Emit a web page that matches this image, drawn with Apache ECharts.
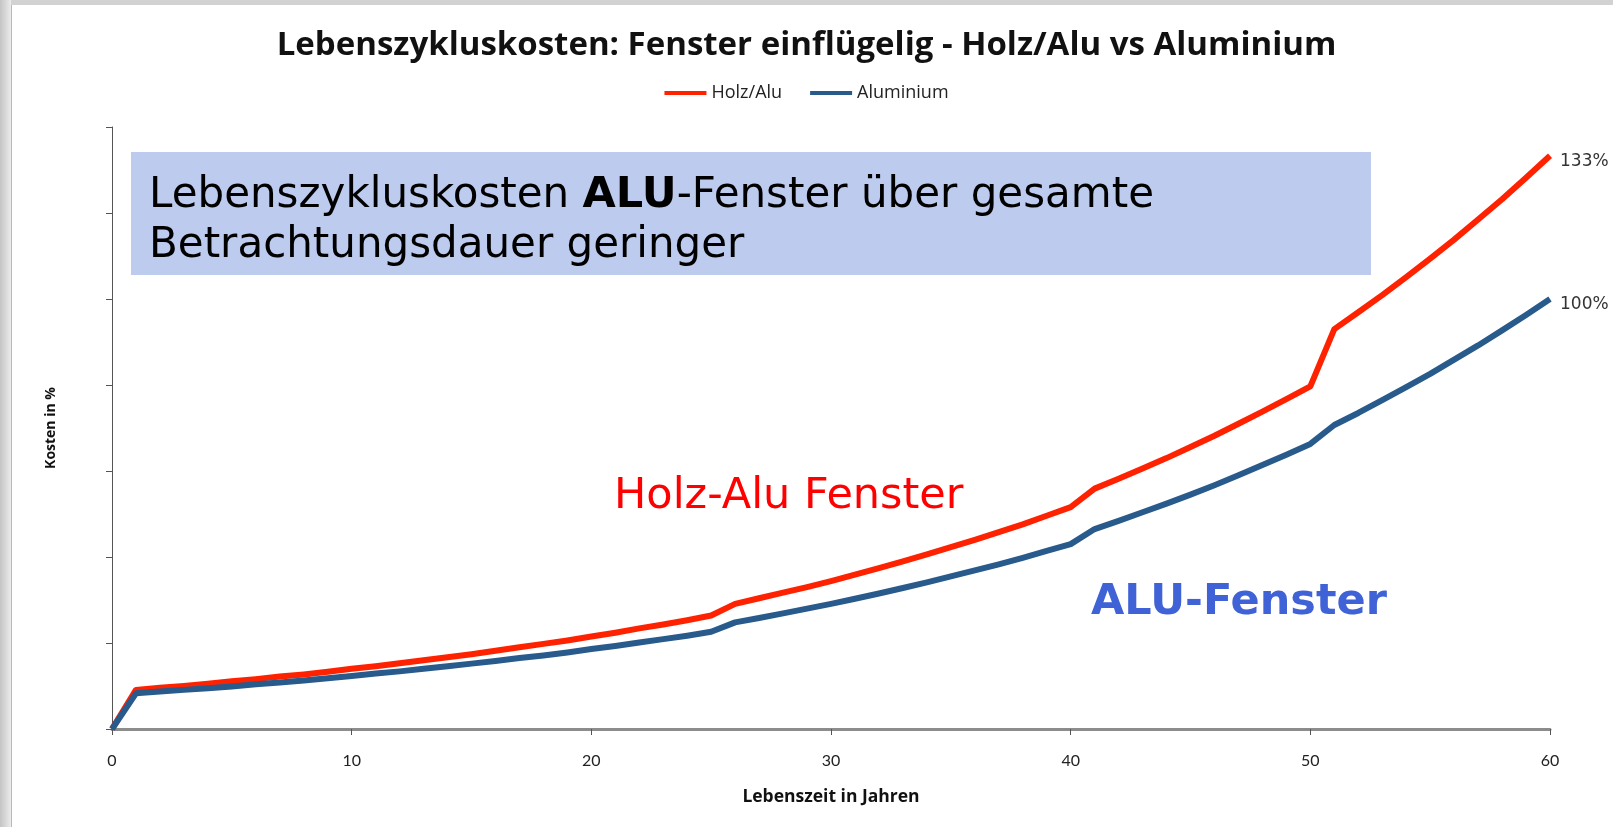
<!DOCTYPE html>
<html>
<head>
<meta charset="utf-8">
<title>Lebenszykluskosten</title>
<script src="https://cdn.jsdelivr.net/npm/echarts@6.0.0/dist/echarts.min.js"></script>
<style>
  html, body { margin: 0; padding: 0; background: #fff; }
  #chart { width: 1613px; height: 827px; }
</style>
</head>
<body>
<div id="chart"></div>
<script>
// Jahre (x-Achse)
var years = [0, 1, 2, 3, 4, 5, 6, 7, 8, 9, 10, 11, 12, 13, 14, 15, 16, 17, 18, 19, 20,
  21, 22, 23, 24, 25, 26, 27, 28, 29, 30, 31, 32, 33, 34, 35, 36, 37, 38, 39, 40,
  41, 42, 43, 44, 45, 46, 47, 48, 49, 50, 51, 52, 53, 54, 55, 56, 57, 58, 59, 60];

// Kosten in %
var holzAlu = [0, 9.1, 9.6, 10.0, 10.5, 11.1, 11.6, 12.2, 12.7, 13.3, 14.0, 14.6, 15.3, 16.0, 16.7, 17.4,
  18.2, 19.0, 19.8, 20.6, 21.5, 22.4, 23.4, 24.3, 25.3, 26.4, 29.1, 30.4, 31.7, 33.0, 34.4,
  35.9, 37.4, 39.0, 40.6, 42.3, 44.0, 45.8, 47.6, 49.6, 51.6, 55.9, 58.2, 60.6, 63.0, 65.6,
  68.2, 71.0, 73.8, 76.7, 79.7, 93.0, 96.9, 100.9, 105.1, 109.4, 113.8, 118.5, 123.2, 128.2, 133.3];

var aluminium = [0, 8.3, 8.7, 9.1, 9.5, 9.9, 10.4, 10.8, 11.3, 11.8, 12.3, 12.9, 13.4, 14.0, 14.6, 15.2,
  15.8, 16.5, 17.1, 17.8, 18.6, 19.3, 20.1, 20.9, 21.7, 22.6, 24.8, 25.8, 26.9, 28.0, 29.1,
  30.3, 31.5, 32.8, 34.1, 35.5, 36.9, 38.3, 39.8, 41.4, 43.0, 46.5, 48.4, 50.4, 52.4, 54.5,
  56.7, 59.0, 61.4, 63.8, 66.3, 70.7, 73.5, 76.5, 79.5, 82.6, 85.9, 89.2, 92.7, 96.3, 100.0];

var seriesNames = ['Holz/Alu', 'Aluminium'];
var endLabels = ['133%', '100%'];
var xTicks = { min: 0, max: 60, interval: 10 };
var yTicks = { min: 0, max: 140, interval: 20 };

var RED = '#ff2200';
var BLUE = '#285a8c';

function toPoints(values) {
  return years.map(function (y, i) { return [y, values[i]]; });
}

// Label am Linienende (133% / 100%)
function endLabel(text) {
  return {
    show: true, distance: 10, offset: [0, 6],
    formatter: text, color: '#333', fontFamily: 'DejaVu Sans', fontSize: 17
  };
}

var myChart = echarts.init(document.getElementById('chart'));

var option = {
  backgroundColor: '#fff',
  animation: false,
  title: {
    text: 'Lebenszykluskosten: Fenster einflügelig - Holz/Alu vs Aluminium',
    left: 'center', top: 24,
    textStyle: { fontFamily: 'Open Sans', fontWeight: 'bold', fontSize: 33, color: '#111' }
  },
  legend: {
    top: 79, left: 'center',
    icon: 'rect', itemWidth: 42, itemHeight: 4, itemGap: 28,
    textStyle: { fontFamily: 'Open Sans', fontSize: 18, color: '#222' },
    data: seriesNames
  },
  grid: { left: 112, right: 63, top: 127, bottom: 98 },
  xAxis: {
    type: 'value',
    min: xTicks.min, max: xTicks.max, interval: xTicks.interval,
    name: 'Lebenszeit in Jahren',
    nameLocation: 'middle', nameGap: 59,
    nameTextStyle: { fontFamily: 'Open Sans', fontWeight: 'bold', fontSize: 17.5, color: '#111' },
    axisLine: { lineStyle: { color: '#8c8c8c', width: 3 } },
    axisTick: { show: true, length: 6, lineStyle: { color: '#555', width: 1 } },
    axisLabel: { margin: 24, fontFamily: 'Lato', fontSize: 16, color: '#222' },
    splitLine: { show: false }
  },
  yAxis: {
    type: 'value',
    min: yTicks.min, max: yTicks.max, interval: yTicks.interval,
    name: 'Kosten in %',
    nameLocation: 'middle', nameGap: 54,
    nameTextStyle: { fontFamily: 'Open Sans', fontWeight: 'bold', fontSize: 14, color: '#111' },
    axisLine: { show: true, lineStyle: { color: '#555', width: 1 } },
    axisTick: { show: true, length: 6, lineStyle: { color: '#555', width: 1 } },
    axisLabel: { show: false },
    splitLine: { show: false }
  },
  series: [
    {
      name: seriesNames[0], type: 'line', symbol: 'none', z: 2,
      color: RED,
      lineStyle: { color: RED, width: 6, join: 'round' },
      endLabel: endLabel(endLabels[0]),
      data: toPoints(holzAlu)
    },
    {
      name: seriesNames[1], type: 'line', symbol: 'none', z: 3,
      color: BLUE,
      lineStyle: { color: BLUE, width: 6, join: 'round' },
      endLabel: endLabel(endLabels[1]),
      data: toPoints(aluminium)
    }
  ],
  graphic: [
    // Folienrahmen links / oben
    { type: 'rect', shape: { x: 0, y: 0, width: 1613, height: 5 }, style: { fill: '#d2d2d2' }, z: 0 },
    {
      type: 'rect', shape: { x: 0, y: 0, width: 11, height: 827 }, z: 0,
      style: {
        fill: new echarts.graphic.LinearGradient(0, 0, 1, 0, [
          { offset: 0, color: '#c4c4c4' }, { offset: 1, color: '#ececec' }
        ])
      }
    },
    { type: 'rect', shape: { x: 11, y: 5, width: 1, height: 822 }, style: { fill: '#b8b8b8' }, z: 0 },
    // Hinweis-Box
    { type: 'rect', shape: { x: 131, y: 152, width: 1240, height: 123 }, style: { fill: '#bccbee' }, z: 5 },
    {
      type: 'text', x: 149, y: 221, z: 6,
      style: {
        text: '{n|Lebenszykluskosten }{b|ALU}{n|-Fenster über gesamte}\n{n|Betrachtungsdauer geringer}',
        verticalAlign: 'middle',
        rich: {
          n: { fontFamily: 'DejaVu Sans', fontSize: 42, color: '#111', lineHeight: 50 },
          b: { fontFamily: 'DejaVu Sans', fontWeight: 'bold', fontSize: 43, color: '#111', lineHeight: 50 }
        }
      }
    },
    {
      type: 'text', x: 614, y: 497, z: 6,
      style: { text: 'Holz-Alu Fenster', fill: '#ff0000', fontFamily: 'DejaVu Sans', fontSize: 43, verticalAlign: 'middle' }
    },
    {
      type: 'text', x: 1091, y: 603, z: 6,
      style: { text: 'ALU-Fenster', fill: '#3f62d6', fontFamily: 'DejaVu Sans', fontWeight: 'bold', fontSize: 43, verticalAlign: 'middle' }
    }
  ]
};

myChart.setOption(option);
</script>
</body>
</html>
